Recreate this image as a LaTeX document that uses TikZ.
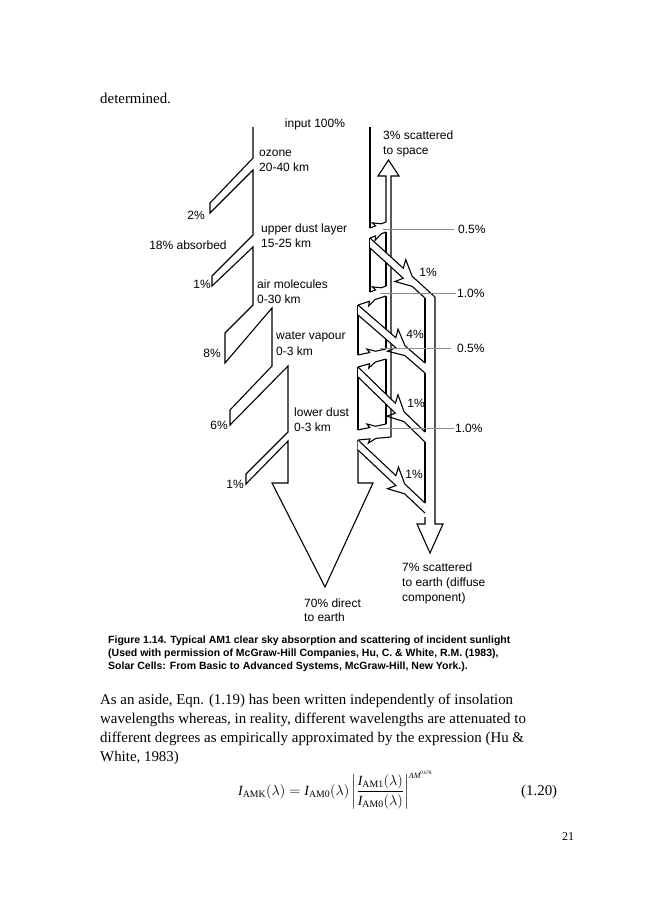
\documentclass[tikz,border=0pt]{standalone}
\usepackage{fontspec}
\setmainfont{Liberation Serif}
\setsansfont{Liberation Sans}
\usepackage{amsmath}
\usetikzlibrary{calc}

\tikzset{
  beamline/.style={line width=1.1pt, line join=miter},
  leader/.style={draw=black!45, line width=0.8pt},
  figlbl/.style={font=\sffamily\fontsize{12}{14}\selectfont, inner sep=0pt},
  bodytxt/.style={font=\fontsize{14.9}{19}\selectfont, inner sep=0pt, anchor=base west},
  captxt/.style={font=\sffamily\bfseries\fontsize{10.5}{13}\selectfont, inner sep=0pt, anchor=base west},
}

% line with one arrow barb: start, end, distance, side, out, back
\newcommand{\barbline}[6]{%
  \pgfmathsetmacro{\bka}{#3-#6}%
  \pgfmathsetmacro{\bkb}{#3+#5+#6}%
  \coordinate (bk) at ($(#1)!\bka pt!(#2)$);
  \draw[beamline] (#1) -- ($(#1)!#3 pt!(#2)$) -- ($(bk)!#5 pt!#4:(#2)$) -- ($(#1)!\bkb pt!(#2)$) -- (#2);}

\begin{document}
\begin{tikzpicture}[x=1pt, y=-1pt]
  \useasboundingbox (0,0) rectangle (660,900);

  % texto de cima
  \node[bodytxt] (top) at (100,103) {determined.};

  % feixe direto, borda esquerda e seta de 70%
  \draw[beamline] (253,127) -- (253,158) -- (210,203) -- (210,213) -- (253,170)
    -- (253,235) -- (212,276) -- (212,286) -- (253,247)
    -- (253,305) -- (225,333) -- (225,363) -- (272,308)
    -- (272,366) -- (230,410) -- (230,425) -- (288,366)
    -- (288,432) -- (246,474) -- (246,484) -- (288,441)
    -- (288,483) -- (272,483) -- (325,587) -- (373,483) -- (358,483) -- (358,440);

  % borda direita do feixe
  \draw[beamline] (370,127) -- (370,228);
  \draw[beamline] (370,238) -- (370,292);
  \draw[beamline] (358,305) -- (358,355);
  \draw[beamline] (358,367) -- (358,430);

  % fluxo para o espaco
  \draw[beamline] (391,437) -- (391,176) -- (399,176) -- (388.5,160) -- (378,176) -- (386,176) -- (386,222);
  \draw[beamline] (386,232) -- (386,286);
  \draw[beamline] (386,296) -- (386,349);
  \draw[beamline] (386,359) -- (386,424);

  % fluxo difuso para a terra
  \draw[beamline] (435,297) -- (435,524) -- (443,524) -- (430,553) -- (417,524) -- (425,524) -- (425,517);
  \draw[beamline] (425,298) -- (425,363);
  \draw[beamline] (425,373) -- (425,432);
  \draw[beamline] (425,442) -- (425,503);

  % faixas espalhadas para baixo
  \fill[white] (370,238) -- (435,297) -- (425,298) -- (370,248) -- cycle;
  \barbline{370,238}{435,297}{45}{90}{8}{4}
  \barbline{370,248}{425,298}{45}{-90}{8}{4}
  \fill[white] (358,305) -- (425,363) -- (425,373) -- (358,315) -- cycle;
  \barbline{358,305}{425,363}{50}{90}{8}{4}
  \barbline{358,315}{425,373}{50}{-90}{8}{4}
  \fill[white] (358,367) -- (425,432) -- (425,442) -- (358,377) -- cycle;
  \barbline{358,367}{425,432}{52}{90}{8}{4}
  \barbline{358,377}{425,442}{52}{-90}{8}{4}
  \fill[white] (358,440) -- (425,503) -- (425,513) -- (358,450) -- cycle;
  \barbline{358,440}{425,503}{52}{90}{8}{4}
  \barbline{358,450}{425,513}{52}{-90}{8}{4}

  % setinhas espalhadas para cima
  \barbline{370,228}{386,222}{6}{90}{4}{2}
  \barbline{370,238}{386,232}{6}{-90}{4}{2}
  \barbline{370,292}{386,286}{6}{90}{4}{2}
  \barbline{358,305}{386,296}{12}{-90}{4}{2}
  \barbline{358,355}{386,349}{12}{90}{4}{2}
  \barbline{358,367}{386,359}{12}{-90}{4}{2}
  \barbline{358,430}{386,424}{12}{90}{4}{2}
  \barbline{358,440}{391,437}{12}{-90}{4}{2}

  % linhas de chamada
  \coordinate (c1) at (383,229); \coordinate (c2) at (380,293);
  \coordinate (c3) at (380,348); \coordinate (c4) at (378,428);
  \node[figlbl, anchor=west] (p1) at (458,229) {0.5\%};
  \node[figlbl, anchor=west] (p2) at (457,293) {1.0\%};
  \node[figlbl, anchor=west] (p3) at (457,348) {0.5\%};
  \node[figlbl, anchor=west] (p4) at (455,428) {1.0\%};
  \draw[leader] (c1) -- ([xshift=-4pt]p1.west);
  \draw[leader] (c2) -- ([xshift=-1pt]p2.west);
  \draw[leader] (c3) -- ([xshift=-6pt]p3.west);
  \draw[leader] (c4) -- ([xshift=-1pt]p4.west);

  % rotulos do lado esquerdo
  \node[figlbl, anchor=base] (inp) at (315,127) {input 100\%};
  \node[figlbl, anchor=base west] (oz1) at (259,156) {ozone};
  \node[figlbl, anchor=base west] (oz2) at (259,171) {20-40 km};
  \node[figlbl, anchor=base] (a1) at (196,219) {2\%};
  \node[figlbl, anchor=base] (abs) at (188,249) {18\% absorbed};
  \node[figlbl, anchor=base west] (ud1) at (261,232) {upper dust layer};
  \node[figlbl, anchor=base west] (ud2) at (261,247) {15-25 km};
  \node[figlbl, anchor=base] (a2) at (202,288) {1\%};
  \node[figlbl, anchor=base west] (am1) at (257,288) {air molecules};
  \node[figlbl, anchor=base west] (am2) at (257,303) {0-30 km};
  \node[figlbl, anchor=base west] (wv1) at (276,339) {water vapour};
  \node[figlbl, anchor=base west] (wv2) at (276,355) {0-3 km};
  \node[figlbl, anchor=base] (a3) at (212,357) {8\%};
  \node[figlbl, anchor=base west] (ld1) at (294,416) {lower dust};
  \node[figlbl, anchor=base west] (ld2) at (294,431) {0-3 km};
  \node[figlbl, anchor=base] (a4) at (219,429) {6\%};
  \node[figlbl, anchor=base] (a5) at (235,488) {1\%};
  \node[figlbl, anchor=base west] (dir1) at (304,607) {70\% direct};
  \node[figlbl, anchor=base west] (dir2) at (304,621) {to earth};

  % rotulos do lado direito
  \node[figlbl, anchor=base west] (sp1) at (383,139) {3\% scattered};
  \node[figlbl, anchor=base west] (sp2) at (383,154) {to space};
  \node[figlbl, anchor=base] (s1) at (428,276) {1\%};
  \node[figlbl, anchor=base] (s2) at (415,338) {4\%};
  \node[figlbl, anchor=base] (s3) at (416,407) {1\%};
  \node[figlbl, anchor=base] (s4) at (414,478) {1\%};
  \node[figlbl, anchor=base west] (df1) at (402,571) {7\% scattered};
  \node[figlbl, anchor=base west] (df2) at (402,586) {to earth (diffuse};
  \node[figlbl, anchor=base west] (df3) at (402,601) {component)};

  % legenda
  \node[captxt] (cap1) at (108,643) {Figure 1.14. Typical AM1 clear sky absorption and scattering of incident sunlight};
  \node[captxt] (cap2) at (108,656) {(Used with permission of McGraw-Hill Companies, Hu, C. \& White, R.M. (1983),};
  \node[captxt] (cap3) at (108,669) {Solar Cells: From Basic to Advanced Systems, McGraw-Hill, New York.).};

  % paragrafo
  \node[bodytxt] (par1) at (100,704) {As an aside, Eqn. (1.19) has been written independently of insolation};
  \node[bodytxt] (par2) at (100,723) {wavelengths whereas, in reality, different wavelengths are attenuated to};
  \node[bodytxt] (par3) at (100,742) {different degrees as empirically approximated by the expression (Hu \&};
  \node[bodytxt] (par4) at (100,761) {White, 1983)};

  % equacao
  \node[font=\fontsize{14}{18}\selectfont, inner sep=0pt, anchor=west] (eq) at (238,790)
    {$\displaystyle \mathit{I}_{\mathrm{AMK}}(\lambda) = \mathit{I}_{\mathrm{AM0}}(\lambda)\left|\frac{\mathit{I}_{\mathrm{AM1}}(\lambda)}{\mathit{I}_{\mathrm{AM0}}(\lambda)}\right|^{\text{\fontsize{8}{8}\selectfont\itshape AM}^{\text{\fontsize{5}{5}\selectfont 0.678}}}$};
  \node[bodytxt] (eqn) at (521,795) {(1.20)};
  \node[bodytxt, font=\fontsize{12}{14}\selectfont] (pg) at (562,840) {21};
\end{tikzpicture}
\end{document}
